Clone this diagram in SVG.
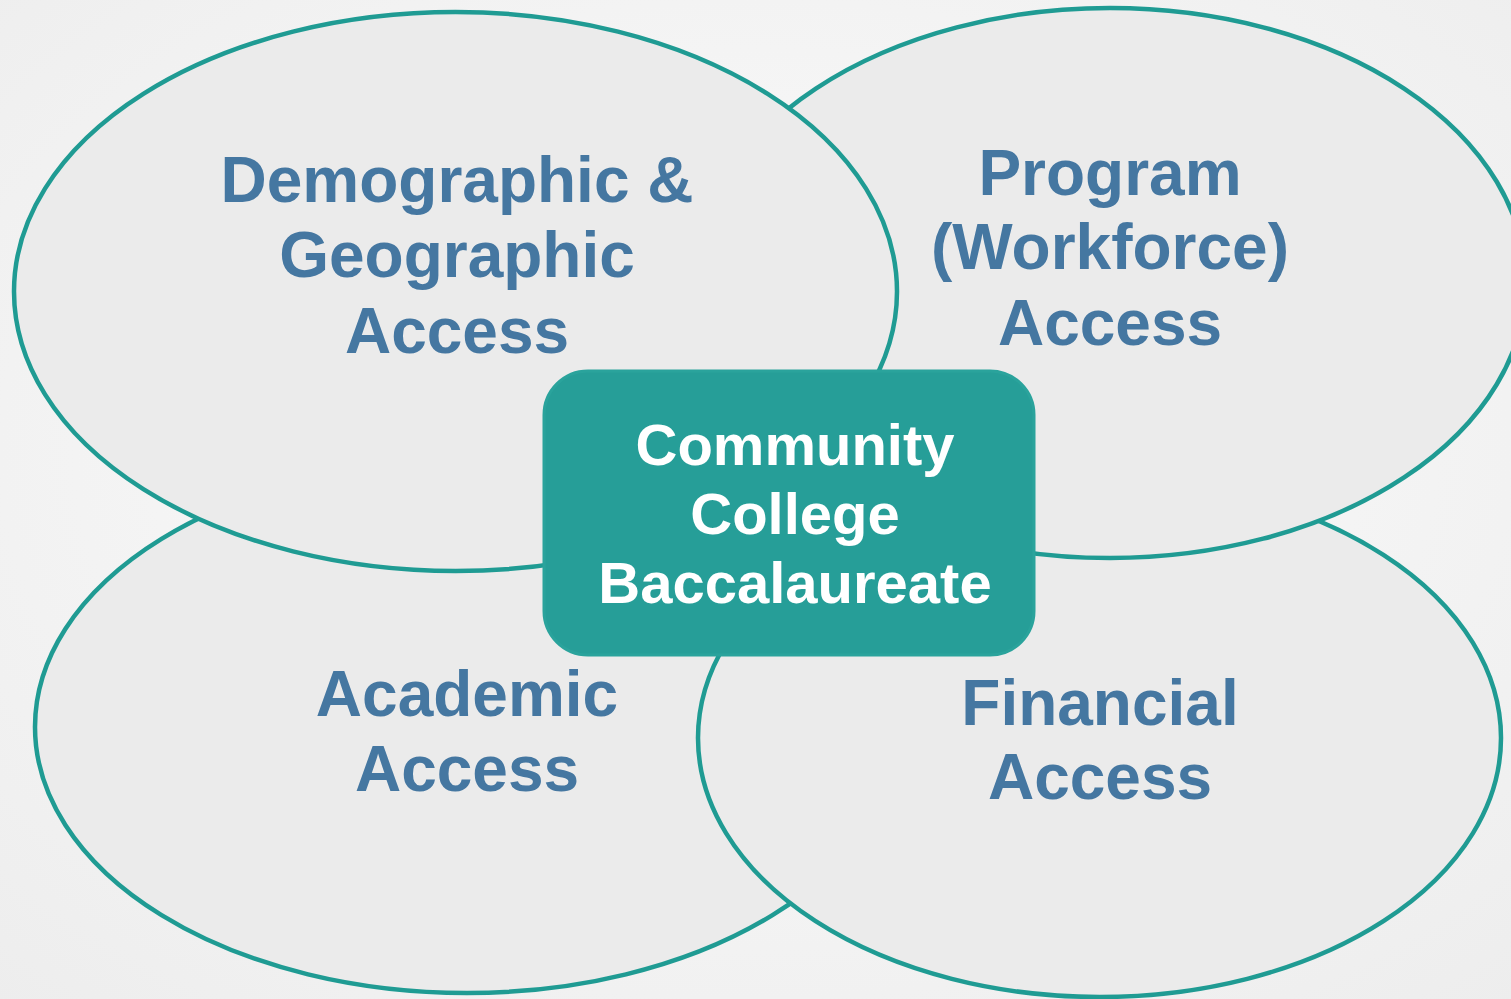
<svg xmlns="http://www.w3.org/2000/svg" width="1511" height="999" viewBox="0 0 1511 999">
<defs>
<radialGradient id="bg" cx="50%" cy="45%" r="75%">
<stop offset="0" stop-color="#fcfcfc"/>
<stop offset="1" stop-color="#ededed"/>
</radialGradient>
<style>
.ell{fill:#ebebeb;stroke:#1f9b93;stroke-width:4.5}
.lbl{font-family:"Liberation Sans",Arial,sans-serif;font-weight:bold;font-size:64px;fill:#4577a1;text-anchor:middle}
.ctr{font-family:"Liberation Sans",Arial,sans-serif;font-weight:bold;font-size:58px;fill:#ffffff;text-anchor:middle}
</style>
</defs>
<rect x="0" y="0" width="1511" height="999" fill="url(#bg)"/>
<g id="academic">
<ellipse class="ell" cx="467" cy="727" rx="432" ry="266"/>
<text class="lbl" x="467" y="716">Academic</text>
<text class="lbl" x="467" y="791">Access</text>
</g>
<g id="financial">
<ellipse class="ell" cx="1099.5" cy="738" rx="401.5" ry="259"/>
<text class="lbl" x="1100" y="725">Financial</text>
<text class="lbl" x="1100" y="799">Access</text>
</g>
<g id="program">
<ellipse class="ell" cx="1110" cy="283" rx="416" ry="275"/>
<text class="lbl" x="1110" y="195">Program</text>
<text class="lbl" x="1110" y="269">(Workforce)</text>
<text class="lbl" x="1110" y="345">Access</text>
</g>
<g id="demographic">
<ellipse class="ell" cx="455.5" cy="291.5" rx="441.5" ry="279.5"/>
<text class="lbl" x="457" y="202">Demographic &amp;</text>
<text class="lbl" x="457" y="277">Geographic</text>
<text class="lbl" x="457" y="353">Access</text>
</g>
<g id="connectors"></g>
<g id="center">
<rect x="544" y="371" width="490" height="284" rx="44" ry="44" fill="#269e98" stroke="#2aa39c" stroke-width="3"/>
<text class="ctr" x="795" y="465">Community</text>
<text class="ctr" x="795" y="534">College</text>
<text class="ctr" x="795" y="603">Baccalaureate</text>
</g>
</svg>
